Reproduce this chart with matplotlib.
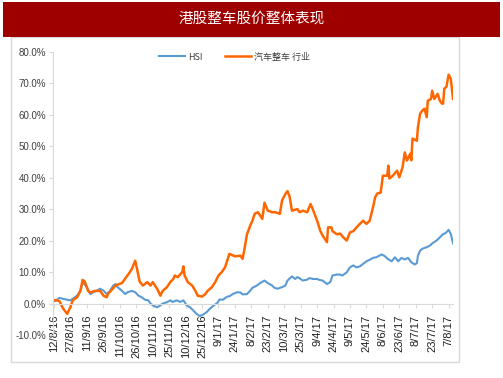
import matplotlib
matplotlib.use('Agg')
import matplotlib.pyplot as plt
import matplotlib.patches as patches
import pandas as pd

plt.rcParams['font.family'] = ['Liberation Sans', 'Noto Sans CJK SC', 'DejaVu Sans']

title = '港股整车股价整体表现'
start = pd.Timestamp('2016-08-12')

# 汽车整车 行业 (days from start, cumulative %)
auto_days = [0, 3, 5, 8, 12, 15, 17, 21, 24, 26, 28, 31, 33, 37, 42, 45, 48, 49, 53, 56,
             58, 62, 65, 68, 71, 74, 76, 78, 81, 85, 88, 90, 94, 97, 99, 103, 106, 109, 110, 113,
             117, 118, 119, 122, 126, 129, 131, 135, 138, 140, 144, 147, 150, 153, 156, 158, 160, 165, 170, 172,
             174, 176, 179, 181, 183, 186, 190, 192, 195, 199, 202, 206, 208, 211, 213, 215, 217, 222, 224, 227,
             231, 234, 236, 240, 243, 245, 249, 250, 253, 254, 258, 261, 264, 267, 270, 273, 276, 279, 282, 285,
             288, 291, 293, 295, 298, 300, 304, 305, 306, 309, 313, 315, 318, 320, 322, 325, 326, 327, 331, 332,
             334, 336, 338, 340, 341, 344, 345, 347, 350, 352, 354, 355, 356, 358, 360, 362, 364]
auto_vals = [1.0, 1.0, 0.7, -1.5, -3.3, -1.0, 1.0, 2.0, 4.0, 7.5, 7.0, 4.0, 3.5, 4.0, 4.0, 2.5, 2.0, 3.0, 4.5, 5.7,
             6.0, 6.5, 8.0, 9.4, 11.0, 13.6, 10.5, 7.0, 5.7, 6.8, 5.7, 6.8, 4.7, 2.5, 4.0, 5.2, 6.8, 7.9, 8.9, 8.4,
             10.0, 11.8, 9.0, 6.8, 5.7, 4.0, 2.5, 2.2, 3.0, 4.0, 5.2, 6.8, 8.9, 10.0, 11.5, 13.6, 15.8, 15.0, 15.2, 14.2,
             17.9, 22.0, 24.8, 26.3, 28.5, 29.0, 26.9, 32.0, 29.5, 29.0, 29.0, 28.5, 32.7, 34.8, 35.7, 33.8, 29.5, 30.0, 29.0, 29.5,
             29.0, 31.6, 30.0, 26.3, 23.0, 21.6, 19.5, 24.2, 24.2, 23.0, 22.0, 22.2, 21.0, 20.0, 22.6, 23.0, 24.2, 25.3, 26.3, 25.3,
             26.3, 30.6, 33.8, 35.0, 35.2, 40.6, 40.6, 43.8, 39.7, 40.6, 42.2, 40.1, 43.3, 48.0, 45.4, 47.6, 45.5, 52.4, 51.7, 56.0,
             60.3, 61.3, 61.9, 59.2, 64.4, 65.0, 67.6, 65.0, 66.6, 64.4, 63.5, 63.5, 68.2, 68.9, 72.7, 71.4, 65.0]

# HSI (days from start, cumulative %)
hsi_days = [0, 3, 5, 8, 12, 15, 17, 21, 24, 26, 30, 33, 36, 39, 42, 45, 48, 51, 54, 56,
            58, 62, 65, 67, 71, 74, 77, 80, 83, 86, 88, 90, 94, 97, 99, 103, 106, 108, 112, 115,
            118, 121, 124, 127, 130, 133, 136, 139, 142, 145, 149, 151, 154, 158, 160, 163, 167, 170, 172, 176,
            179, 181, 185, 188, 192, 195, 199, 201, 204, 208, 211, 213, 217, 220, 222, 224, 227, 231, 233, 236,
            240, 242, 245, 249, 252, 254, 258, 261, 263, 267, 270, 273, 276, 279, 282, 285, 288, 291, 294, 299,
            302, 304, 308, 311, 314, 317, 320, 323, 326, 329, 331, 332, 334, 336, 340, 343, 345, 349, 352, 355,
            357, 360, 362, 364]
hsi_vals = [0.7, 1.3, 1.8, 1.5, 1.2, 1.0, 1.5, 2.5, 4.0, 6.8, 5.2, 3.0, 3.6, 4.1, 4.7, 4.1, 3.0, 4.0, 5.7, 6.2,
            5.2, 4.0, 3.0, 3.6, 4.0, 3.6, 2.5, 2.0, 1.2, 1.0, 0.0, -0.6, -1.2, -0.6, 0.0, 0.4, 1.0, 0.5, 1.0, 0.5,
            1.0, -0.6, -1.2, -2.2, -3.3, -4.0, -3.5, -2.8, -1.7, -0.8, 0.2, 1.3, 1.2, 2.2, 2.3, 3.0, 3.6, 3.5, 2.9, 3.0,
            4.1, 5.0, 5.7, 6.5, 7.3, 6.5, 5.7, 5.0, 4.7, 5.2, 5.7, 7.3, 8.6, 7.8, 8.4, 8.0, 7.3, 7.6, 8.1, 7.8,
            7.8, 7.5, 7.3, 6.2, 6.8, 8.9, 9.2, 9.2, 8.9, 9.9, 11.5, 12.1, 11.5, 11.8, 12.6, 13.4, 13.9, 14.5, 14.7, 15.6,
            15.0, 14.3, 13.4, 14.7, 13.4, 14.5, 14.0, 14.5, 13.1, 12.4, 12.8, 15.2, 16.8, 17.4, 17.9, 18.4, 19.1, 20.0, 21.0, 22.1,
            22.3, 23.4, 22.1, 19.1]

tick_labels = ['12/8/16', '27/8/16', '11/9/16', '26/9/16', '11/10/16', '26/10/16', '10/11/16',
               '25/11/16', '10/12/16', '25/12/16', '9/1/17', '24/1/17', '8/2/17', '23/2/17',
               '10/3/17', '25/3/17', '9/4/17', '24/4/17', '9/5/17', '24/5/17', '8/6/17',
               '23/6/17', '8/7/17', '23/7/17', '7/8/17']
y_ticks = [-10, 0, 10, 20, 30, 40, 50, 60, 70, 80]

auto_x = start + pd.to_timedelta(auto_days, unit='D')
hsi_x = start + pd.to_timedelta(hsi_days, unit='D')
tick_x = pd.to_datetime(tick_labels, format='%d/%m/%y')

fig = plt.figure(figsize=(5.03, 3.78), dpi=100)

# 外框和标题栏
fig.patches.append(patches.Rectangle((11 / 503, 1 - 362 / 378), 448 / 503, 325 / 378,
                                     transform=fig.transFigure, fill=False,
                                     edgecolor='#D9D9D9', linewidth=1))
fig.patches.append(patches.Rectangle((3 / 503, 1 - 37 / 378), 497 / 503, 35 / 378,
                                     transform=fig.transFigure, facecolor='#9E0000',
                                     edgecolor='none'))
fig.text(0.5, 1 - 19 / 378, title, color='white', fontsize=10.5, ha='center', va='center',
         family=['Noto Sans CJK SC', 'DejaVu Sans'])

ax = fig.add_axes([53 / 503, 1 - 335 / 378, 400 / 503, 283.3 / 378])
ax.plot(hsi_x, hsi_vals, color='#5B9BD5', lw=1.5, label='HSI')
ax.plot(auto_x, auto_vals, color='#FF6600', lw=1.8, label='汽车整车 行业')

ax.set_xlim(start - pd.Timedelta(days=1), start + pd.Timedelta(days=364))
ax.set_ylim(-10, 80)
ax.set_yticks(y_ticks)
ax.set_yticklabels(['%.1f%%' % v for v in y_ticks])
ax.set_xticks(tick_x)
ax.set_xticklabels(tick_labels)

# 取消边框, 横轴放在0处
for key, spine in ax.spines.items():
    if key in ('top', 'right'):
        spine.set_visible(False)
    else:
        spine.set_color('#D9D9D9')
ax.spines['bottom'].set_position(('data', 0))
ax.tick_params(axis='both', color='#D9D9D9', length=3, width=0.8)
ax.tick_params(axis='y', labelcolor='#404040', labelsize=7, pad=2)
ax.tick_params(axis='x', labelcolor='#202020', labelrotation=90, labelsize=8, pad=5)
for t in ax.get_xticklabels():
    t.set_ha('center')
    t.set_va('top')

leg = fig.legend(loc='center', bbox_to_anchor=(0.467, 1 - 57 / 378), ncol=2, frameon=False,
                 handlelength=2.8, columnspacing=2.5, handletextpad=0.4,
                 prop={'family': ['Noto Sans CJK SC', 'DejaVu Sans'], 'size': 6.5})
for t in leg.get_texts():
    t.set_color('#404040')

fig.savefig('out.png', dpi=100)
